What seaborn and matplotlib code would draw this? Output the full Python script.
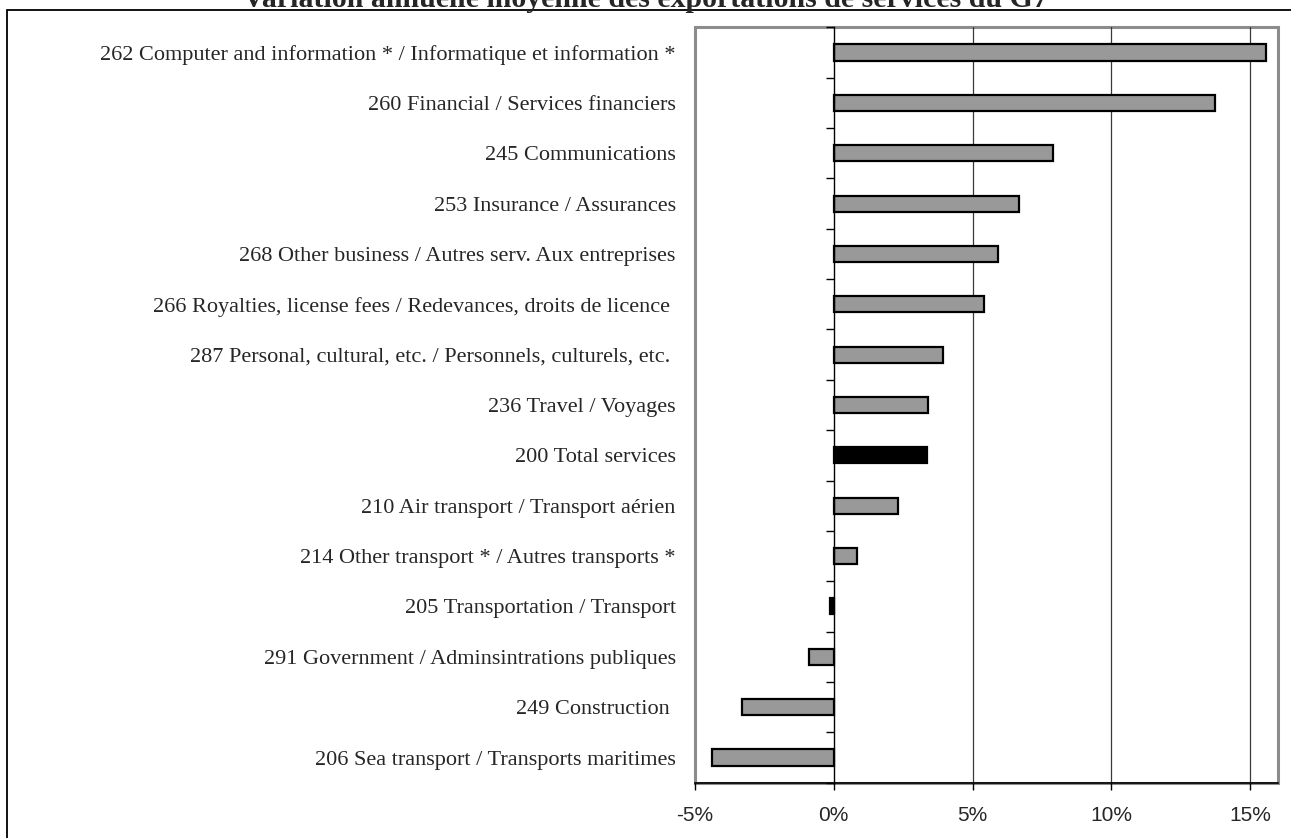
import numpy as np
import pandas as pd
import matplotlib
matplotlib.use("Agg")
import matplotlib.pyplot as plt
from matplotlib.patches import Rectangle
import seaborn as sns

categories = [
    "262 Computer and information * / Informatique et information *",
    "260 Financial / Services financiers",
    "245 Communications",
    "253 Insurance / Assurances",
    "268 Other business / Autres serv. Aux entreprises",
    "266 Royalties, license fees / Redevances, droits de licence ",
    "287 Personal, cultural, etc. / Personnels, culturels, etc. ",
    "236 Travel / Voyages",
    "200 Total services",
    "210 Air transport / Transport aérien",
    "214 Other transport * / Autres transports *",
    "205 Transportation / Transport",
    "291 Government / Adminsintrations publiques",
    "249 Construction ",
    "206 Sea transport / Transports maritimes",
]
values = [15.55, 13.72, 7.91, 6.66, 5.93, 5.42, 3.95, 3.38, 3.35, 2.32, 0.84, -0.12, -0.89, -3.32, -4.37]
highlight = ["200 Total services", "205 Transportation / Transport"]
xticks = [-5, 0, 5, 10, 15]
xtick_labels = ["-5%", "0%", "5%", "10%", "15%"]
title = "Variation annuelle moyenne des exportations de services du G7"

sns.set_style("white")
plt.rcParams["font.family"] = ["Liberation Serif", "DejaVu Serif"]

df = pd.DataFrame({"cat": categories, "val": values})
palette = {c: ("#000000" if c in highlight else "#999999") for c in categories}

fig = plt.figure(figsize=(12.91, 8.38), dpi=100)
ax = fig.add_axes([695 / 1291, 1 - 782.7 / 838, (1278 - 695) / 1291, (782.7 - 27.3) / 838])

sns.barplot(data=df, x="val", y="cat", hue="cat", palette=palette, legend=False,
            orient="h", width=0.32, edgecolor="black", linewidth=1.6,
            saturation=1, ax=ax, zorder=3)

ax.set_xlim(-5, 16)
ax.set_ylim(len(categories) - 0.5, -0.5)
ax.set_xlabel("")
ax.set_ylabel("")

# border of plot area (grey)
ax.patch.set_edgecolor("#8c8c8c")
ax.patch.set_linewidth(2.2)
for s in ["top", "right"]:
    ax.spines[s].set_visible(False)
ax.spines["left"].set_position(("data", 0))
ax.spines["left"].set_color("black")
ax.spines["left"].set_linewidth(1.0)
ax.spines["left"].set_zorder(4)
ax.spines["bottom"].set_color("black")
ax.spines["bottom"].set_linewidth(1.2)

# vertical gridlines at positive ticks
for t in xticks:
    if t > 0:
        ax.axvline(t, color="#3a3a3a", linewidth=0.9, zorder=1)

ax.set_xticks(xticks)
ax.set_xticklabels(xtick_labels, family=["Liberation Sans", "DejaVu Sans"], fontsize=15)
ax.tick_params(axis="x", which="major", direction="out", length=5, width=1.0,
               color="black", pad=12, bottom=True)

n = len(categories)
ax.set_yticks(np.arange(n + 1) - 0.5)
ax.set_yticklabels([""] * (n + 1))
ax.set_yticks(np.arange(n), labels=categories, minor=True)
ax.tick_params(axis="y", which="major", direction="out", length=6, width=1.0,
               color="black", left=True)
ax.tick_params(axis="y", which="minor", length=0, pad=113.8, labelsize=16, left=True)

# outer frame
fig.patches.append(Rectangle((7 / 1291, -0.2), 2.0, 1.2 - 10 / 838,
                             transform=fig.transFigure, fill=False,
                             edgecolor="black", linewidth=1.3))

fig.text(0.5, 1 - 7 / 838, title, ha="center", va="baseline",
         fontsize=21.5, fontweight="bold", family=["Liberation Serif", "DejaVu Serif"])

fig.savefig("out.png", dpi=100)
